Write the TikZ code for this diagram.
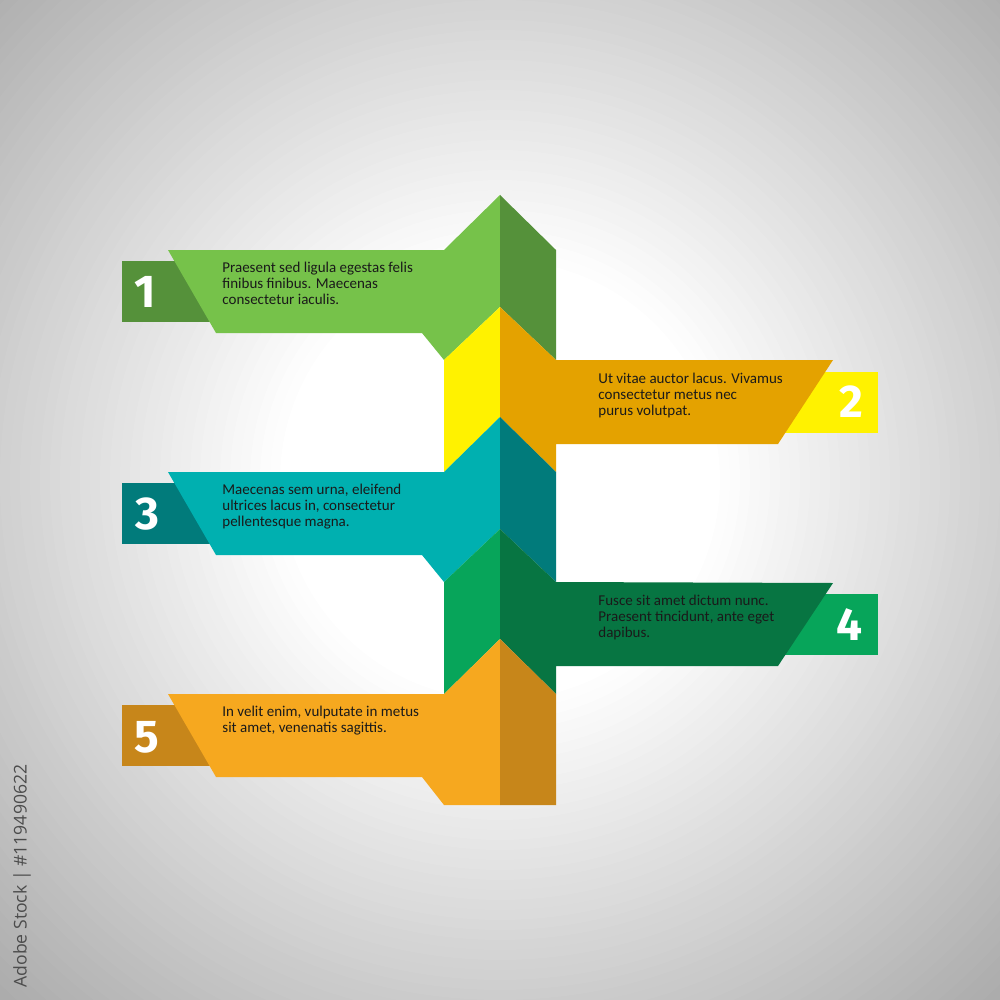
\documentclass[tikz,border=0pt]{standalone}
\usepackage{fontspec}
\setmainfont{Carlito}
\newfontfamily\numfont{Fira Sans}
\newfontfamily\wmfont{Open Sans}
\definecolor{Lg}{HTML}{76C24A}
\definecolor{Dg}{HTML}{55913A}
\definecolor{Yl}{HTML}{FFF200}
\definecolor{Or}{HTML}{E4A200}
\definecolor{Tl}{HTML}{00B0B0}
\definecolor{Dt}{HTML}{017B7B}
\definecolor{Mg}{HTML}{07A55A}
\definecolor{Fg}{HTML}{077542}
\definecolor{Oy}{HTML}{F6A81F}
\definecolor{Do}{HTML}{C7861A}
\definecolor{bgout}{HTML}{ACACAC}
\definecolor{txt}{HTML}{1A1A1A}
\tikzset{
  body/.style={anchor=north west, inner sep=0pt, align=left, text=txt,
    font=\fontsize{7.5}{8}\selectfont},
  num/.style={text=white, inner sep=0pt, font=\numfont\bfseries\fontsize{23}{23}\selectfont},
}
\begin{document}
\begin{tikzpicture}[x=0.5pt,y=-0.5pt]
\useasboundingbox (0,0) rectangle (1000,1000);
\begin{scope}
\clip (0,0) rectangle (1000,1000);
\fill[bgout] (0,0) rectangle (1000,1000);
\foreach \i in {0,...,54} {
  \pgfmathsetmacro\r{760-10*\i}
  \pgfmathtruncatemacro\p{max(0,min(100,(720-\r)/5.0))}
  \fill[white!\p!bgout] (500,480) circle (\r);
}
\end{scope}
% group 1
\fill[Dg] (122,261) rectangle (215,322);
\fill[Lg] (500,195) -- (444,250) -- (168,250) -- (216,333) -- (422,333) -- (444,360) -- (500,307) -- cycle;
\fill[Dg] (500,195) -- (556,250) -- (556,360) -- (500,307) -- cycle;
% group 2
\fill[Yl] (780,372) rectangle (878,433);
\fill[Yl] (500,307) -- (444,360) -- (444,472) -- (500,417) -- cycle;
\fill[Or] (500,307) -- (556,360) -- (833,360) -- (778,444) -- (556,444) -- (556,472) -- (500,417) -- cycle;
% group 3
\fill[Dt] (122,483) rectangle (215,544);
\fill[Tl] (500,417) -- (444,472) -- (168,472) -- (216,555) -- (422,555) -- (444,582) -- (500,529) -- cycle;
\fill[Dt] (500,417) -- (556,472) -- (556,582) -- (500,529) -- cycle;
% group 4
\fill[Mg] (780,594) rectangle (878,655);
\fill[Mg] (500,529) -- (444,582) -- (444,694) -- (500,639) -- cycle;
\fill[Fg] (500,529) -- (556,582) -- (833,583) -- (778,666) -- (556,666) -- (556,694) -- (500,639) -- cycle;
% group 5
\fill[Do] (122,705) rectangle (215,766);
\fill[Oy] (500,639) -- (444,694) -- (168,694) -- (216,777) -- (422,777) -- (444,805) -- (500,805) -- cycle;
\fill[Do] (500,639) -- (556,694) -- (556,805) -- (500,805) -- cycle;
% numbers
\node[num] (n1) at (145,292) {1};
\node[num] (n2) at (851,402) {2};
\node[num] (n3) at (147,514) {3};
\node[num] (n4) at (849,625) {4};
\node[num] (n5) at (147,737) {5};
% texts
\node[body] (t1) at (222,262) {Praesent sed ligula egestas felis\\finibus finibus. Maecenas\\consectetur iaculis.};
\node[body] (t2) at (598,373) {Ut vitae auctor lacus. Vivamus\\consectetur metus nec\\purus volutpat.};
\node[body] (t3) at (222,484) {Maecenas sem urna, eleifend\\ultrices lacus in, consectetur\\pellentesque magna.};
\node[body] (t4) at (598,595) {Fusce sit amet dictum nunc.\\Praesent tincidunt, ante eget\\dapibus.};
\node[body] (t5) at (222,706) {In velit enim, vulputate in metus\\sit amet, venenatis sagittis.};
% side label
\node[rotate=90, text=black!70, inner sep=0pt, font=\wmfont\fontsize{8.8}{10}\selectfont] (wm) at (22,876) {Adobe Stock | \#119490622};
\end{tikzpicture}
\end{document}
